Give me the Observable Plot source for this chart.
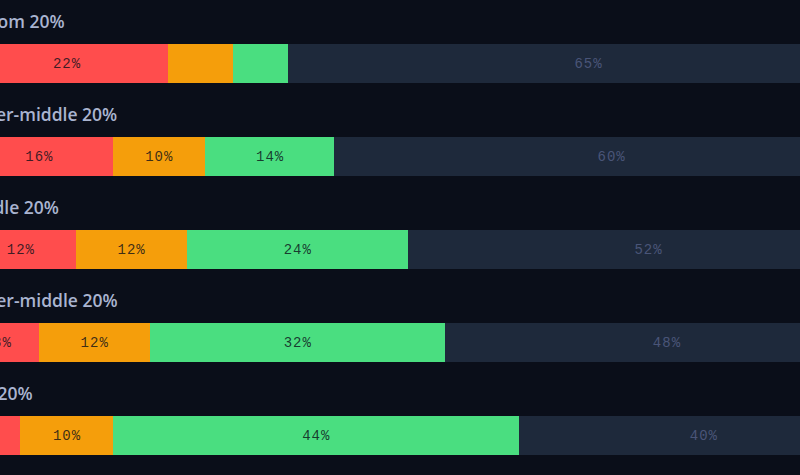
<!DOCTYPE html>
<html>
<head>
<meta charset="utf-8">
<script src="https://cdn.jsdelivr.net/npm/d3@7"></script>
<script src="https://cdn.jsdelivr.net/npm/@observablehq/plot@0.6"></script>
<style>
  html, body { margin: 0; padding: 0; background: #0a0e19; overflow: hidden; }
  #chart svg { display: block; }
</style>
</head>
<body>
<div id="chart"></div>
<script>
const groups = ["Bottom 20%", "Lower-middle 20%", "Middle 20%", "Upper-middle 20%", "Top 20%"];
const segments = ["red", "orange", "green", "rest"];
const redValues    = [22, 16, 12, 8, 6];
const orangeValues = [7, 10, 12, 12, 10];
const greenValues  = [6, 14, 24, 32, 44];
const restValues   = [65, 60, 52, 48, 40];
const segmentColors = ["#ff4d4d", "#f59e0b", "#4ade80", "#1e293b"];

const series = [redValues, orangeValues, greenValues, restValues];
const data = [];
groups.forEach((g, i) => {
  segments.forEach((s, j) => {
    data.push({group: g, segment: s, value: series[j][i]});
  });
});

const chart = Plot.plot({
  width: 800,
  height: 475,
  margin: 0,
  style: {background: "#0a0e19", overflow: "hidden"},
  x: {domain: [0, 100], range: [-35, 888], axis: null},
  y: {type: "band", domain: groups, range: [44, 455], paddingInner: 54 / 93, paddingOuter: 0, axis: null},
  color: {domain: segments, range: segmentColors},
  marks: [
    Plot.barX(data, Plot.stackX({x: "value", y: "group", z: "segment", fill: "segment", order: null, shapeRendering: "crispEdges"})),
    Plot.text(data, Plot.stackX({
      x: "value", y: "group", z: "segment", order: null,
      text: d => d.value >= 8 ? d.value + "%" : null,
      fill: d => d.segment === "rest" ? "#4a5578" : "#0b0f19",
      fillOpacity: d => d.segment === "rest" ? 1 : 0.8,
      fontFamily: "Liberation Mono, monospace",
      fontSize: 14
    })),
    Plot.text(groups, {
      x: 0, y: d => d, text: d => d,
      textAnchor: "start", dx: -4, dy: -42,
      fill: "#a9b4d0",
      fontFamily: "Open Sans, sans-serif",
      fontWeight: 600,
      fontSize: 17.5
    })
  ]
});
chart.querySelectorAll("g[font-family*='Mono'] text").forEach(t => t.style.letterSpacing = "1px");
document.getElementById("chart").appendChild(chart);
</script>
</body>
</html>
